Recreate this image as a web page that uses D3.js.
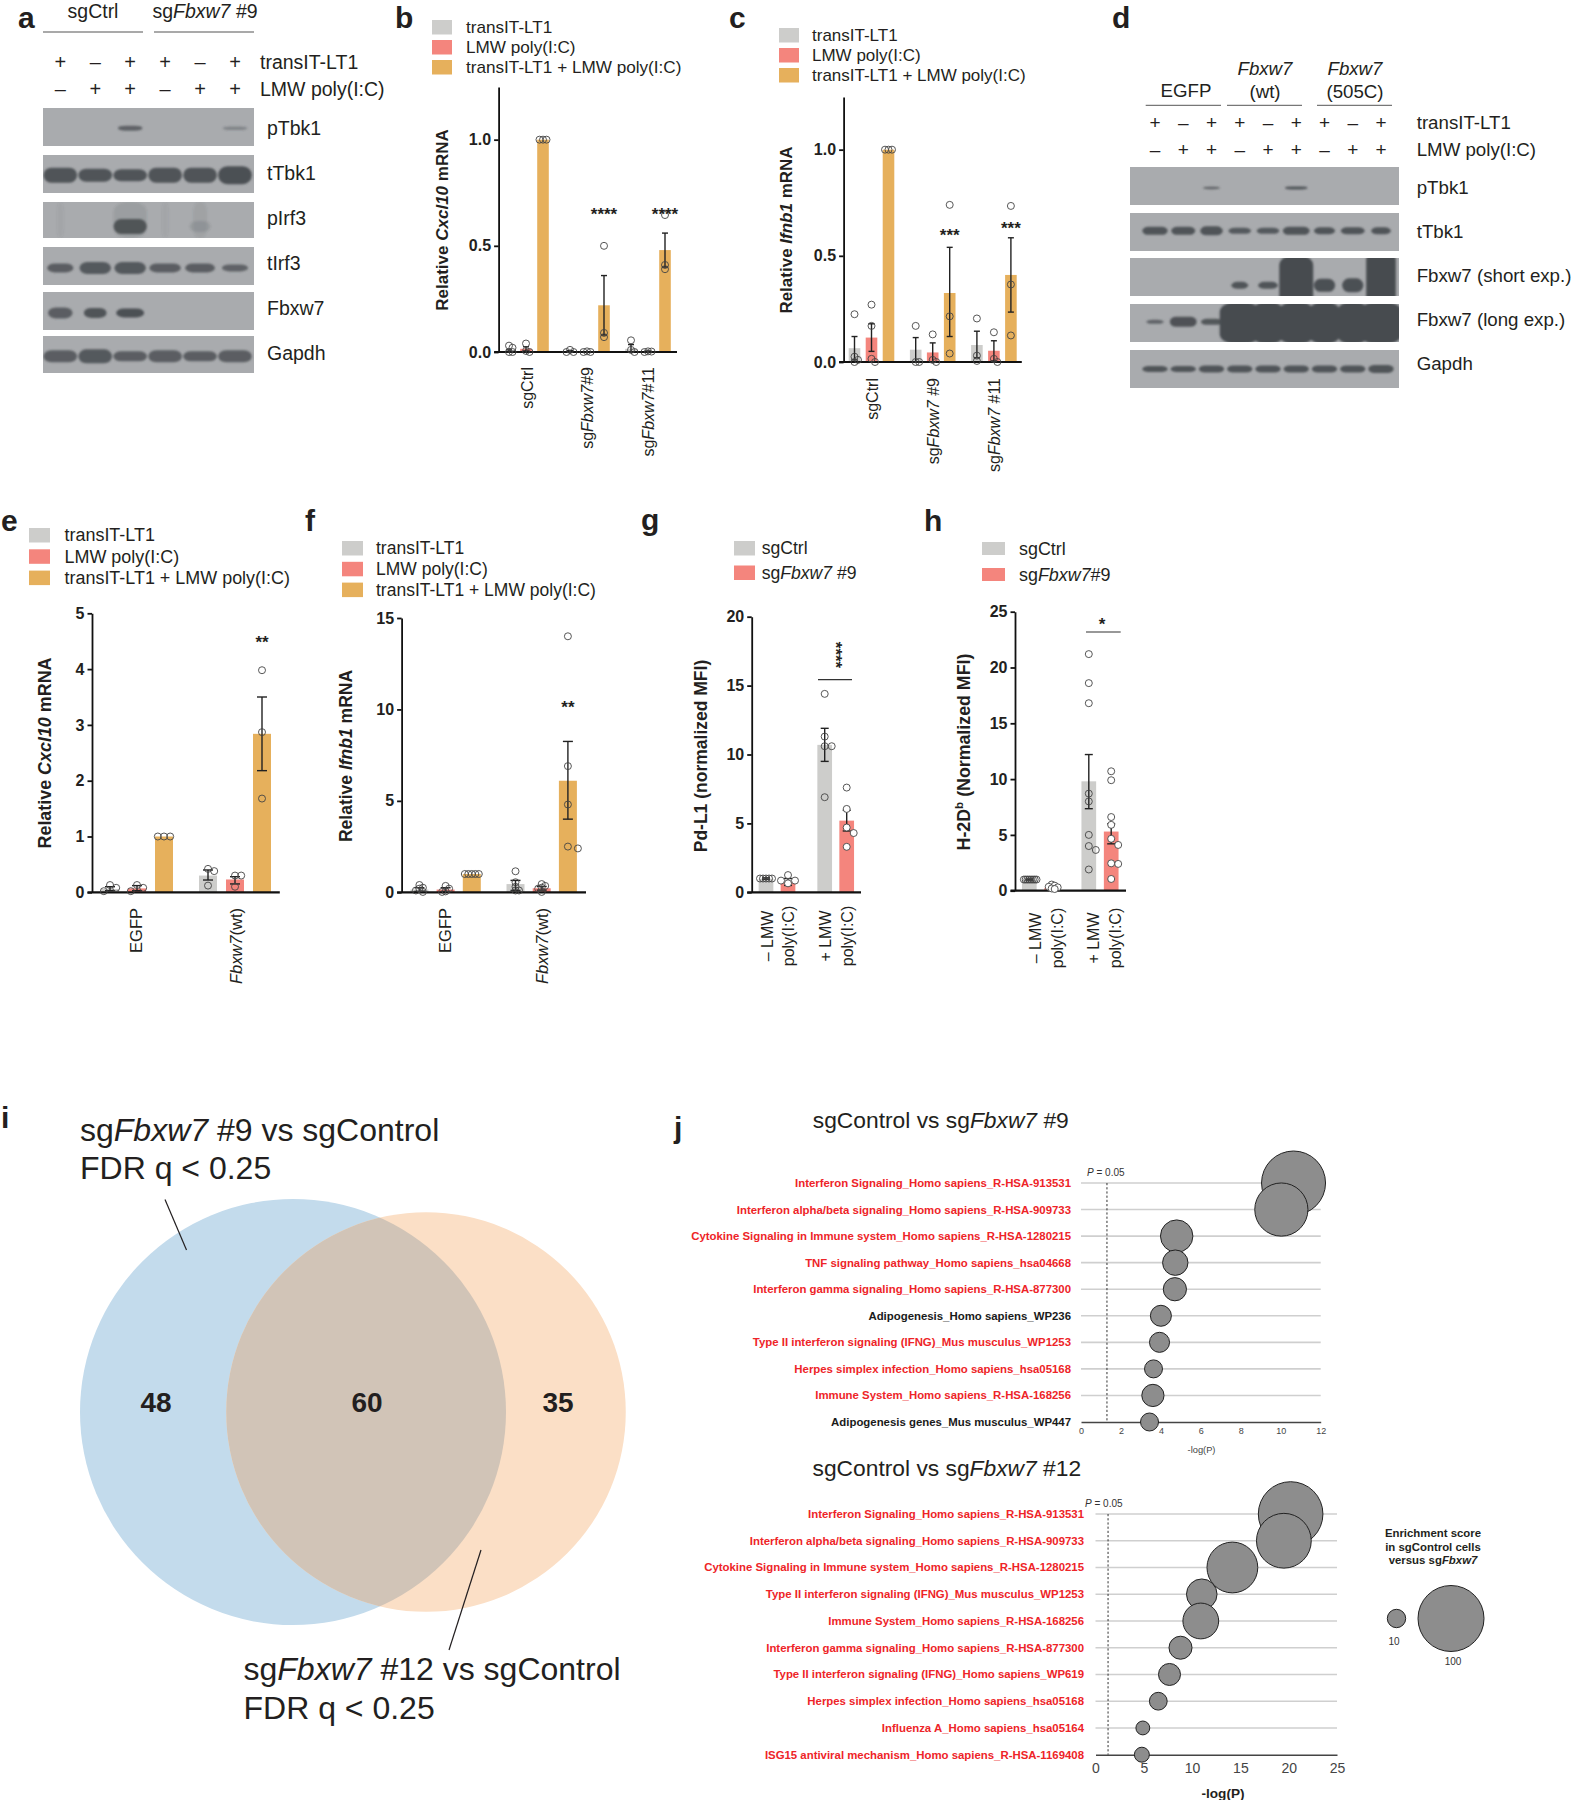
<!DOCTYPE html>
<html><head><meta charset="utf-8">
<script src="https://cdn.jsdelivr.net/npm/d3@7"></script>
<style>html,body{margin:0;background:#fff}svg{display:block}text{font-family:"Liberation Sans",Arial,sans-serif;fill:#231f20}</style>
</head><body><svg id="fig" width="1571" height="1800" xmlns="http://www.w3.org/2000/svg"></svg>
<script>
// ---------- DATA ----------
const conditions3 = ["transIT-LT1","LMW poly(I:C)","transIT-LT1 + LMW poly(I:C)"];

const bGroups = ["sgCtrl","sg*Fbxw7*#9","sg*Fbxw7*#11"];
const bMeans = [[0.003,0.015,1],[0.003,0.002,0.22],[0.015,0.002,0.48]];
const bHigh  = [[0.01,0.025,1],[0.006,0.004,0.36],[0.035,0.005,0.56]];
const bLow   = [[0,0.005,1],[0,0,0.08],[0,0,0.40]];
const bPoints = [[[0.03,0.02,0,0],[0.04,0.005,0],[1,1,1]],[[0.01,0,0],[0.003,0,0],[0.5,0.09,0.07]],[[0.055,0.01,0],[0.003,0.002,0],[0.645,0.41,0.39]]];

const cGroups = ["sgCtrl","sg*Fbxw7* #9","sg*Fbxw7* #11"];
const cMeans = [[0.065,0.115,1],[0.058,0.045,0.325],[0.08,0.053,0.41]];
const cHigh  = [[0.12,0.18,1],[0.115,0.09,0.54],[0.145,0.10,0.585]];
const cLow   = [[0.01,0.05,1],[0,0,0.12],[0.02,0.005,0.235]];
const cPoints = [[[0.225,0.025,0.01,0],[0.27,0.17,0.015,0],[1,1,1]],[[0.17,0,0],[0.13,0.01,0],[0.74,0.215,0.04]],[[0.205,0.03,0.005],[0.14,0.015,0],[0.735,0.365,0.125]]];

const eGroups = ["EGFP","*Fbxw7*(wt)"];
const eMeans = [[0.06,0.07,1],[0.3,0.23,2.84]];
const eHigh  = [[0.1,0.12,1],[0.4,0.28,3.5]];
const eLow   = [[0.03,0.03,1],[0.22,0.15,2.18]];
const ePoints = [[[0.13,0.08,0.02],[0.13,0.08,0.02],[1,1,1]],[[0.42,0.38,0.12],[0.3,0.3,0.1],[3.98,2.87,1.68]]];

const fMeans = [[0.15,0.15,1],[0.45,0.22,6.1]];
const fHigh  = [[0.25,0.25,1],[0.65,0.32,8.25]];
const fLow   = [[0.05,0.05,1],[0.1,0.12,4.0]];
const fPoints = [[[0.4,0.25,0.2,0.1,0.02],[0.35,0.2,0.05,0.02],[1,1,1,1,1]],[[1.15,0.55,0.3,0.1,0.1],[0.45,0.35,0.25,0.2,0.02],[14,6.9,4.8,2.5,2.4]]];

const gGroups = ["minus","plus"];
const gMeans = [[1,0.75],[10.7,5.2]];
const gHigh  = [[1.05,1.0],[11.9,5.95]];
const gLow   = [[0.95,0.5],[9.5,4.45]];
const gPoints = [[[1,1,1,1,1],[1.25,0.85,0.85,0.65]],[[14.4,11.3,10.6,10.6,6.9],[7.6,6.05,4.7,4.3,3.3]]];

const hMeans = [[1,0.25],[9.8,5.3]];
const hHigh  = [[1.05,0.3],[12.2,6.0]];
const hLow   = [[0.95,0.2],[7.35,4.2]];
const hPoints = [[[1,1,1,1,1,1,1,1],[0.55,0.45,0.35,0.3,0.2,0.15]],[[21.2,18.6,16.8,8.7,8.0,5.0,4.0,3.65,1.9],[10.7,9.9,6.6,5.9,4.65,4.1,2.45,2.4,1.05]]];

const vennSizes = [108,95];      // set sizes: 48+60, 60+35
const vennCounts = [48,60,35];

const j1Terms = ["Interferon Signaling_Homo sapiens_R-HSA-913531","Interferon alpha/beta signaling_Homo sapiens_R-HSA-909733","Cytokine Signaling in Immune system_Homo sapiens_R-HSA-1280215","TNF signaling pathway_Homo sapiens_hsa04668","Interferon gamma signaling_Homo sapiens_R-HSA-877300","Adipogenesis_Homo sapiens_WP236","Type II interferon signaling (IFNG)_Mus musculus_WP1253","Herpes simplex infection_Homo sapiens_hsa05168","Immune System_Homo sapiens_R-HSA-168256","Adipogenesis genes_Mus musculus_WP447"];
const j1LogP = [10.64,10.03,4.79,4.72,4.7,4.0,3.93,3.63,3.6,3.43];
const j1Score = [94.6,67.8,27.8,17.9,15.2,12.7,11.7,9.6,14.1,9.6];
const j1Black = ["Adipogenesis_Homo sapiens_WP236","Adipogenesis genes_Mus musculus_WP447"];

const j2Terms = ["Interferon Signaling_Homo sapiens_R-HSA-913531","Interferon alpha/beta signaling_Homo sapiens_R-HSA-909733","Cytokine Signaling in Immune system_Homo sapiens_R-HSA-1280215","Type II interferon signaling (IFNG)_Mus musculus_WP1253","Immune System_Homo sapiens_R-HSA-168256","Interferon gamma signaling_Homo sapiens_R-HSA-877300","Type II interferon signaling (IFNG)_Homo sapiens_WP619","Herpes simplex infection_Homo sapiens_hsa05168","Influenza A_Homo sapiens_hsa05164","ISG15 antiviral mechanism_Homo sapiens_R-HSA-1169408"];
const j2LogP = [20.2,19.5,14.17,11.0,10.9,8.8,7.66,6.5,4.9,4.8];
const j2Score = [96.2,71.5,62.4,25,33.2,15,13.8,9.4,6,6.9];
const legendScores = [10,100];

// blot panels: signal per lane (0..1), band thickness and band width per lane
const aTransit = ["+","–","+","+","–","+"];
const aLmw     = ["–","+","+","–","+","+"];
const aRows = [
 {label:"pTbk1",  layers:[{s:[0,0,.75,0,0,.4],t:[4,4,5,4,4,3.5],p:.53,w:.7}]},
 {label:"tTbk1",  layers:[{s:[.9,.9,.9,.9,.9,.95],t:[15,13,12,15,15,18],p:.53,w:.96}]},
 {label:"pIrf3",  layers:[{s:[.06,0,.14,.06,.1,0],t:[36,36,36,36,36,36],p:.5,w:[.2,0,.95,.2,.4,0]},{s:[0,0,.9,0,.16,0],t:[12,0,15,0,11,0],p:.68,w:[.9,0,.95,.9,.6,0]}]},
 {label:"tIrf3",  layers:[{s:[.8,.85,.85,.8,.8,.75],t:[9,12,12,9,9,7],p:.55,w:[.75,.9,.9,.9,.85,.75]}]},
 {label:"Fbxw7",  layers:[{s:[.8,.9,.95,0,0,0],t:[11,10,9,0,0,0],p:.55,w:[.7,.65,.8,0,0,0]}]},
 {label:"Gapdh",  layers:[{s:[.8,.85,.8,.8,.8,.8],t:[12,14,10,12,10,12],p:.55,w:.96}]}
];
const dTransit = ["+","–","+","+","–","+","+","–","+"];
const dLmw     = ["–","+","+","–","+","+","–","+","+"];
const dRows = [
 {label:"pTbk1", layers:[{s:[0,0,.75,0,0,.9,0,0,0],t:[0,0,2.5,0,0,3,0,0,0],p:.55,w:[0,0,.6,0,0,.8,0,0,0]}]},
 {label:"tTbk1", layers:[{s:[.9,.9,.9,.85,.85,.9,.9,.9,.9],t:[8,8,9,6,6,8,7,7,7],p:.47,w:[.9,.85,.8,.8,.8,.95,.75,.85,.7]}]},
 {label:"Fbxw7 (short exp.)", layers:[{s:[0,0,0,.9,.9,1,.95,.95,1],t:[0,0,0,7,7,60,13,14,70],p:.72,w:[0,0,0,.6,.7,1.2,.75,.75,1.05]}]},
 {label:"Fbxw7 (long exp.)", layers:[{s:[.75,.92,.88,0,0,0,0,0,0],t:[4,10,6,0,0,0,0,0,0],p:.47,w:[.62,.95,.75,0,0,0,0,0,0]},{s:[0,0,0,1,1,1,1,1,1],t:[0,0,0,42,42,42,42,42,42],p:.5,w:[0,0,0,1.42,1.1,1.25,1.1,1.1,1.5]}]},
 {label:"Gapdh", layers:[{s:[.9,.9,.9,.9,.9,.9,.9,.9,.9],t:[6,6,7,7,7,7,7,7,8],p:.5,w:.9}]}
];

// ---------- STYLE ----------
const GRAY="#cdcdcb", RED="#f4857d", ORANGE="#e6b05c";
const svg=d3.select("#fig");
const defs=svg.append("defs");
defs.append("filter").attr("id","blur").attr("x","-30%").attr("y","-60%").attr("width","160%").attr("height","220%")
    .append("feGaussianBlur").attr("stdDeviation",1);

// rich text: *italic*, ^superscript^
function rich(sel,str){
  const parts=str.split(/(\*[^*]+\*|\^[^^]+\^)/).filter(d=>d!=="");
  let pend=false;
  parts.forEach(p=>{
    const ts=sel.append("tspan");
    if(pend){ts.attr("dy","0.26em");pend=false;}
    if(p[0]==="*"){ts.attr("font-style","italic").text(p.slice(1,-1));}
    else if(p[0]==="^"){ts.attr("dy","-0.4em").attr("font-size","65%").text(p.slice(1,-1));pend=true;}
    else ts.text(p);
  });
  return sel;
}
function txt(x,y,str,o={}){
  const t=svg.append("text").attr("x",x).attr("y",y)
    .attr("font-size",o.size||16).attr("font-weight",o.bold?"bold":"normal")
    .attr("text-anchor",o.anchor||"start");
  if(o.fill)t.style("fill",o.fill);
  if(o.rot!==undefined)t.attr("transform",`rotate(${o.rot},${x},${y})`);
  if(o.mid)t.attr("dominant-baseline","central");
  return rich(t,str);
}
function letter(x,y,s){txt(x,y,s,{size:30,bold:true});}
function line(x1,y1,x2,y2,w=1,c="#231f20"){svg.append("line").attr("x1",x1).attr("y1",y1).attr("x2",x2).attr("y2",y2).attr("stroke",c).attr("stroke-width",w);}

// ---------- BLOTS ----------
let clipN=0;
function blot(o){
  const lanes=d3.range(o.transit.length);
  const x=d3.scalePoint().domain(lanes).range(o.laneRange);
  const step=x.step();
  lanes.forEach(i=>{
    txt(x(i),o.signY[0],o.transit[i],{size:o.signSize,anchor:"middle",mid:true});
    txt(x(i),o.signY[1],o.lmw[i],{size:o.signSize,anchor:"middle",mid:true});
  });
  txt(o.labelX,o.signY[0],"transIT-LT1",{size:o.size,mid:true});
  txt(o.labelX,o.signY[1],"LMW poly(I:C)",{size:o.size,mid:true});
  o.rows.forEach((r,ri)=>{
    const [y0,y1]=o.rowY[ri];
    const id="clip"+(clipN++);
    defs.append("clipPath").attr("id",id).append("rect").attr("x",o.x0).attr("y",y0).attr("width",o.x1-o.x0).attr("height",y1-y0);
    svg.append("rect").attr("x",o.x0).attr("y",y0).attr("width",o.x1-o.x0).attr("height",y1-y0).attr("fill","#a9abae");
    const yf=d3.scaleLinear().domain([0,1]).range([y0,y1]);
    const g=svg.append("g").attr("clip-path",`url(#${id})`).append("g").attr("filter","url(#blur)");
    r.layers.forEach(L=>{
      const wf=i=>Array.isArray(L.w)?L.w[i]:(L.w||0.9);
      g.selectAll(null).data(lanes.filter(i=>L.s[i]>0)).join("rect")
       .attr("x",i=>x(i)-step*wf(i)/2).attr("width",i=>step*wf(i))
       .attr("y",i=>yf(L.p)-L.t[i]/2).attr("height",i=>L.t[i])
       .attr("rx",i=>Math.min(step*wf(i)*.4,Math.max(L.t[i]/2,step*.22))).attr("ry",i=>L.t[i]>24?10:L.t[i]/2)
       .attr("fill","#474b4f").attr("opacity",i=>L.s[i]);
    });
    txt(o.labelX+o.rowLabelDx,o.labelY[ri],r.label,{size:o.size,mid:true});
  });
}
blot({transit:aTransit,lmw:aLmw,rows:aRows,laneRange:[60.3,235],signY:[62,89],signSize:20,size:19.5,labelX:260,rowLabelDx:7,x0:43,x1:254,
  rowY:[[108,146],[155,193],[202,238],[247,285],[292,330],[336,373]],labelY:[128,173,218,263,308,353]});
blot({transit:dTransit,lmw:dLmw,rows:dRows,laneRange:[1155,1381],signY:[122,149],signSize:19,size:18.7,labelX:1416.7,rowLabelDx:0,x0:1130,x1:1399,
  rowY:[[167,205],[213,251],[258,296],[304,342],[350,388]],labelY:[186.5,230.5,274.5,318.5,363]});
// group headers
line(43,32,143,32,1.2,"#555");line(154,32,254,32,1.2,"#555");
txt(93,18,"sgCtrl",{size:19.5,anchor:"middle"});txt(205,18,"sg*Fbxw7* #9",{size:19.5,anchor:"middle"});
line(1145.7,105.3,1221,105.3,1,"#555");line(1227,105.3,1302,105.3,1,"#555");line(1317,105.3,1392,105.3,1,"#555");
txt(1186,97,"EGFP",{size:18.7,anchor:"middle"});
txt(1265,75,"*Fbxw7*",{size:18.7,anchor:"middle"});txt(1265,98,"(wt)",{size:18.7,anchor:"middle"});
txt(1355,75,"*Fbxw7*",{size:18.7,anchor:"middle"});txt(1355,98,"(505C)",{size:18.7,anchor:"middle"});

// ---------- BAR PANELS ----------
function swarm(vals,y,dist){
  const placed=[];
  vals.slice().sort((a,b)=>b-a).forEach(v=>{
    const py=y(v);
    for(let k=0;k<40;k++){
      const off=(k===0?0:(k%2?1:-1)*Math.ceil(k/2)*dist);
      if(placed.every(p=>Math.hypot(p.dx-off,p.py-py)>=dist-1e-6)){placed.push({dx:off,py});break;}
    }
  });
  return placed;
}
function barPanel(o){
  const y=d3.scaleLinear().domain([0,o.top]).range([o.base,o.yTop]);
  const gx=d3.scalePoint().domain(o.groups).range(o.groupRange);
  const colors=o.colors;
  const sx=d3.scalePoint().domain(d3.range(colors.length)).range(o.inner);
  const bw=o.barW;
  o.groups.forEach((gn,gi)=>{
    colors.forEach((c,si)=>{
      const cx=gx(gn)+sx(si);
      svg.append("rect").attr("x",cx-bw/2).attr("width",bw).attr("y",y(o.means[gi][si])).attr("height",o.base-y(o.means[gi][si])).attr("fill",c);
    });
  });
  // axes
  const ax=svg.append("g").attr("transform",`translate(${o.axisX},0)`)
    .call(d3.axisLeft(y).tickValues(o.ticks).tickFormat(o.fmt||d3.format("d")).tickSize(4.5).tickPadding(3).tickSizeOuter(0));
  ax.selectAll("path,line").attr("stroke","#111").attr("stroke-width",1.8);
  ax.selectAll("text").attr("font-size",16).attr("font-weight","bold").style("font-family",'"Liberation Sans",Arial,sans-serif');
  line(o.axisX-4.5,o.base,o.xEnd,o.base,2.2,"#111");
  // errors + points
  o.groups.forEach((gn,gi)=>{
    colors.forEach((c,si)=>{
      const cx=gx(gn)+sx(si);
      const hi=o.high[gi][si],lo=o.low[gi][si];
      if(hi-lo>0.004*o.top){
        line(cx,y(hi),cx,y(lo),1.4,"#222");
        line(cx-o.cap,y(hi),cx+o.cap,y(hi),1.4,"#222");
        line(cx-o.cap,y(lo),cx+o.cap,y(lo),1.4,"#222");
      }
      const pts=swarm(o.points[gi][si],y,typeof o.dist==="function"?o.dist(gi,si):o.dist);
      svg.append("g").selectAll("circle").data(pts).join("circle")
        .attr("cx",d=>cx+d.dx).attr("cy",d=>d.py).attr("r",o.r)
        .attr("fill",(o.ptFill&&o.ptFill[si])||"none").attr("stroke","#444").attr("stroke-width",0.9);
    });
  });
  // y title
  txt(o.titleX,o.titleY,o.title,{size:o.titleSize||17,bold:true,anchor:"middle",rot:-90,mid:true});
  // legend
  o.legend.forEach((name,i)=>{
    svg.append("rect").attr("x",o.legX).attr("y",o.legY+i*o.legStep).attr("width",o.legW).attr("height",o.legH).attr("fill",colors[i]);
    txt(o.legTextX,o.legY+i*o.legStep+o.legH/2,name,{size:o.legSize,mid:true});
  });
  // stars
  (o.stars||[]).forEach(s=>{
    const X=gx(o.groups[s.g])+sx(s.s);
    const Y=y(s.v);
    svg.append("text").attr("x",X).attr("y",Y+0.55*17).attr("text-anchor","middle").attr("font-size",17).attr("font-weight","bold").text(s.t);
  });
}
barPanel({groups:bGroups,colors:[GRAY,RED,ORANGE],means:bMeans,high:bHigh,low:bLow,points:bPoints,top:1.248,base:352,yTop:87,
  groupRange:[526,648],inner:[-17,17],barW:11.6,axisX:498.6,xEnd:677,ticks:[0,.5,1],fmt:d3.format(".1f"),cap:3,r:3.5,dist:3.5,
  title:"Relative *Cxcl10* mRNA",titleX:442,titleY:220,legend:conditions3,legX:432,legY:20,legStep:20,legW:20,legH:14.5,legTextX:466,legSize:17.15,
  stars:[{g:1,s:2,v:.665,t:"****"},{g:2,s:2,v:.665,t:"****"}]});
barPanel({groups:cGroups,colors:[GRAY,RED,ORANGE],means:cMeans,high:cHigh,low:cLow,points:cPoints,top:1.248,base:362,yTop:97,
  groupRange:[871.5,993.9],inner:[-17,17],barW:11.6,axisX:843.6,xEnd:1021.8,ticks:[0,.5,1],fmt:d3.format(".1f"),cap:3,r:3.5,dist:3.5,
  title:"Relative *Ifnb1* mRNA",titleX:786,titleY:230,legend:conditions3,legX:779,legY:28,legStep:20,legW:20,legH:14.5,legTextX:812,legSize:17,
  stars:[{g:1,s:2,v:.613,t:"***"},{g:2,s:2,v:.647,t:"***"}]});
barPanel({groups:eGroups,colors:[GRAY,RED,ORANGE],means:eMeans,high:eHigh,low:eLow,points:ePoints,top:5,base:892.3,yTop:613.3,
  groupRange:[137,235],inner:[-27,27],barW:18,axisX:92,xEnd:279.8,ticks:[0,1,2,3,4,5],cap:5,r:3.5,dist:6.2,
  title:"Relative *Cxcl10* mRNA",titleX:45,titleY:753,titleSize:17.9,legend:conditions3,legX:29,legY:528,legStep:21.3,legW:21,legH:14.5,legTextX:64.5,legSize:17.95,
  stars:[{g:1,s:2,v:4.54,t:"**"}]});
barPanel({groups:eGroups,colors:[GRAY,RED,ORANGE],means:fMeans,high:fHigh,low:fLow,points:fPoints,top:15,base:892.3,yTop:618,
  groupRange:[445.6,541.7],inner:[-26.2,26.2],barW:18,axisX:401.6,xEnd:586,ticks:[0,5,10,15],cap:5,r:3.5,
  dist:(g,s)=>(g===1&&s===2)?10:3.5,
  title:"Relative *Ifnb1* mRNA",titleX:346,titleY:756,titleSize:17.5,legend:conditions3,legX:342,legY:541,legStep:20.8,legW:21,legH:14.5,legTextX:376,legSize:17.5,
  stars:[{g:1,s:2,v:10.3,t:"**"}]});
barPanel({groups:gGroups,colors:[GRAY,RED],means:gMeans,high:gHigh,low:gLow,points:gPoints,top:20,base:892.3,yTop:616.7,
  groupRange:[777,835.7],inner:[-11,11],barW:14.7,axisX:751.7,xEnd:861,ticks:[0,5,10,15,20],cap:4,r:3.5,
  dist:(g,s)=>(g===0&&s===0)?3:7,ptFill:["none","#fff"],
  title:"Pd-L1 (normalized MFI)",titleX:700.7,titleY:756,titleSize:17.5,legend:["sgCtrl","sg*Fbxw7* #9"],legX:734,legY:541,legStep:24.5,legW:21,legH:14.5,legTextX:761.7,legSize:17.6});
barPanel({groups:gGroups,colors:[GRAY,RED],means:hMeans,high:hHigh,low:hLow,points:hPoints,top:25,base:890.7,yTop:611.7,
  groupRange:[1040.5,1100],inner:[-11.2,11.2],barW:14.7,axisX:1015,xEnd:1126,ticks:[0,5,10,15,20,25],cap:4,r:3.5,
  dist:(g,s)=>g===0?(s===0?1.8:3):7,ptFill:["none","#fff"],
  title:"H-2D^b^ (Normalized MFI)",titleX:964,titleY:752,titleSize:17.8,legend:["sgCtrl","sg*Fbxw7*#9"],legX:982,legY:542,legStep:26,legW:23,legH:13,legTextX:1019,legSize:17.9});

// rotated x labels
[[527,"sgCtrl"],[587,"sg*Fbxw7*#9"],[648,"sg*Fbxw7*#11"]].forEach(d=>txt(d[0],367,d[1],{size:16,anchor:"end",rot:-90,mid:true}));
[[872,"sgCtrl"],[932.5,"sg*Fbxw7* #9"],[994,"sg*Fbxw7* #11"]].forEach(d=>txt(d[0],378,d[1],{size:16,anchor:"end",rot:-90,mid:true}));
[[136,"EGFP"],[236,"*Fbxw7*(wt)"],[445,"EGFP"],[541.7,"*Fbxw7*(wt)"]].forEach(d=>txt(d[0],908,d[1],{size:16.5,anchor:"end",rot:-90,mid:true}));
[[766.7,"– LMW"],[788,"poly(I:C)"],[825,"+ LMW"],[846.7,"poly(I:C)"]].forEach(d=>txt(d[0],936,d[1],{size:16,anchor:"middle",rot:-90,mid:true}));
[[1035,"– LMW"],[1056.7,"poly(I:C)"],[1093,"+ LMW"],[1115,"poly(I:C)"]].forEach(d=>txt(d[0],938,d[1],{size:16,anchor:"middle",rot:-90,mid:true}));
// significance g / h
line(818,679.7,852,679.7,1.2,"#333");
svg.append("text").attr("transform","translate(830,655) rotate(90)").attr("text-anchor","middle").attr("font-size",17).attr("font-weight","bold").text("****");
line(1086,632,1120.7,632,1.2,"#333");
svg.append("text").attr("x",1102).attr("y",630).attr("text-anchor","middle").attr("font-size",17).attr("font-weight","bold").text("*");

// ---------- VENN ----------
const rScale=d3.scaleSqrt().domain([0,108]).range([0,213]);
const vennCx=d3.scaleOrdinal().domain(vennSizes).range([293,426]);
const vennY=1412;
svg.append("circle").attr("cx",vennCx(vennSizes[0])).attr("cy",vennY).attr("r",rScale(vennSizes[0])).attr("fill","#c3dbec");
svg.append("circle").attr("cx",vennCx(vennSizes[1])).attr("cy",vennY).attr("r",rScale(vennSizes[1])).attr("fill","#fbdfc6");
defs.append("clipPath").attr("id","vennClip").append("circle").attr("cx",vennCx(vennSizes[0])).attr("cy",vennY).attr("r",rScale(vennSizes[0]));
svg.append("circle").attr("clip-path","url(#vennClip)").attr("cx",vennCx(vennSizes[1])).attr("cy",vennY).attr("r",rScale(vennSizes[1])).attr("fill","#d1c4b7");
line(165,1199.6,186.5,1250,1.2);
line(481,1550,449,1650,1.2);
[[156,vennCounts[0]],[367,vennCounts[1]],[558,vennCounts[2]]].forEach(d=>txt(d[0],1402,String(d[1]),{size:28,bold:true,anchor:"middle",mid:true}));
txt(80,1140.5,"sg*Fbxw7* #9 vs sgControl",{size:32});
txt(80,1178.7,"FDR q < 0.25",{size:32});
txt(243.5,1680,"sg*Fbxw7* #12 vs sgControl",{size:32});
txt(243.5,1718.5,"FDR q < 0.25",{size:32});

// ---------- BUBBLES ----------
const rBubble=d3.scalePow().exponent(0.555).domain([0,100]).range([0,33]);
function bubbles(o){
  const x=d3.scaleLinear().domain(o.domain).range(o.xRange);
  const y=d3.scalePoint().domain(o.terms).range(o.yRange);
  svg.append("g").selectAll("line").data(o.terms.slice(0,-1)).join("line")
    .attr("x1",o.xRange[0]).attr("x2",o.xRange[1]).attr("y1",y).attr("y2",y).attr("stroke","#cfcfcf").attr("stroke-width",1.6);
  const ax=svg.append("g").attr("transform",`translate(0,${o.yRange[1]})`)
    .call(d3.axisBottom(x).tickValues(o.ticks).tickFormat(d3.format("d")).tickSize(0).tickSizeOuter(0).tickPadding(o.tickPad));
  ax.select("path").attr("stroke","#444").attr("stroke-width",1.5);
  ax.selectAll("text").attr("font-size",o.tickSize).style("font-family",'"Liberation Sans",Arial,sans-serif').style("fill","#444");
  svg.append("line").attr("x1",x(1.3)).attr("x2",x(1.3)).attr("y1",o.yRange[0]).attr("y2",o.yRange[1]).attr("stroke","#333").attr("stroke-width",1).attr("stroke-dasharray","2.2,2");
  svg.append("g").selectAll("circle").data(o.terms).join("circle")
    .attr("cx",(d,i)=>x(o.logP[i])).attr("cy",d=>y(d)).attr("r",(d,i)=>rBubble(o.score[i]))
    .attr("fill","#8d8d8d").attr("stroke","#222").attr("stroke-width",1);
  o.terms.forEach(t=>txt(o.labelX,y(t),t,{size:o.labelSize,bold:true,anchor:"end",mid:true,fill:(o.black||[]).includes(t)?"#1a1a1a":"#ee2428"}));
  txt(o.pX,o.pY,"*P* = 0.05",{size:10,fill:"#333"});
}
bubbles({terms:j1Terms,logP:j1LogP,score:j1Score,black:j1Black,domain:[0,12],xRange:[1081,1320.7],yRange:[1183,1422],ticks:d3.range(0,13,2),tickPad:6,tickSize:9,labelX:1071,labelSize:11.4,pX:1087,pY:1176});
bubbles({terms:j2Terms,logP:j2LogP,score:j2Score,domain:[0,25],xRange:[1095.5,1337],yRange:[1514,1754.7],ticks:d3.range(0,26,5),tickPad:8,tickSize:14,labelX:1084,labelSize:11.4,pX:1085,pY:1507});
txt(812.8,1128,"sgControl vs sg*Fbxw7* #9",{size:22.8});
txt(812.5,1476,"sgControl vs sg*Fbxw7* #12",{size:22.8});
txt(1201.5,1450,"-log(P)",{size:9.3,anchor:"middle",mid:true,fill:"#444"});
txt(1223,1793,"-log(P)",{size:13.6,bold:true,anchor:"middle",mid:true});
// size legend
["Enrichment score","in sgControl cells","versus sg*Fbxw7*"].forEach((s,i)=>txt(1433,1533+i*13.7,s,{size:11.4,bold:true,anchor:"middle",mid:true}));
const legendX=d3.scaleOrdinal().domain(legendScores).range([1396.5,1451]);
svg.append("g").selectAll("circle").data(legendScores).join("circle")
  .attr("cx",d=>legendX(d)).attr("cy",1618.5).attr("r",d=>rBubble(d)).attr("fill","#8d8d8d").attr("stroke","#222").attr("stroke-width",1);
txt(1394,1641,"10",{size:10,anchor:"middle",mid:true,fill:"#333"});
txt(1453,1661,"100",{size:10,anchor:"middle",mid:true,fill:"#333"});

// ---------- PANEL LETTERS ----------
letter(18,27.5,"a");letter(395,27.5,"b");letter(729,27.5,"c");letter(1112,27.5,"d");
letter(1,531,"e");letter(305,531,"f");letter(641,530,"g");letter(924,531,"h");
letter(1,1128,"i");letter(674,1138,"j");
</script></body></html>
